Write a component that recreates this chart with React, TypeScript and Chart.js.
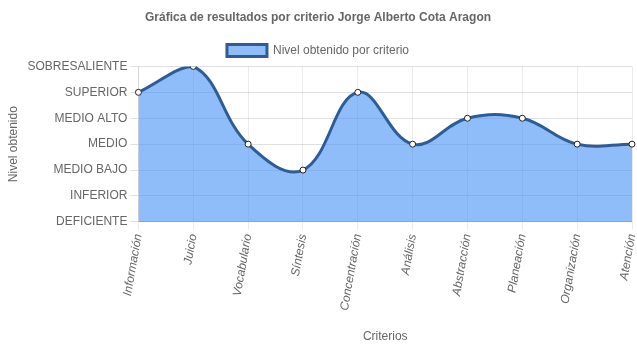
import React, { useEffect, useRef } from "react";
import { Chart, registerables } from "chart.js";

Chart.register(...registerables);

const categories = [
  "Información",
  "Juicio",
  "Vocabulario",
  "Síntesis",
  "Concentración",
  "Análisis",
  "Abstracción",
  "Planeación",
  "Organización",
  "Atención",
];
const levelLabels = [
  "DEFICIENTE",
  "INFERIOR",
  "MEDIO BAJO",
  "MEDIO",
  "MEDIO ALTO",
  "SUPERIOR",
  "SOBRESALIENTE",
];
const values = [5, 6, 3, 2, 5, 3, 4, 4, 3, 3];

export default function App() {
  const ref = useRef<HTMLCanvasElement>(null);
  useEffect(() => {
    document.body.style.margin = "0";
    const font = "'Helvetica Neue', Helvetica, Arial, 'Liberation Sans', sans-serif";
    Chart.defaults.font.family = font;
    Chart.defaults.font.size = 12;
    Chart.defaults.color = "#666";
    const chart = new Chart(ref.current!, {
      type: "line",
      data: {
        labels: categories,
        datasets: [
          {
            label: "Nivel obtenido por criterio",
            data: values,
            fill: "origin",
            backgroundColor: "rgba(66,145,245,0.6)",
            borderColor: "#2e5d96",
            borderWidth: 3,
            tension: 0.4,
            pointRadius: 3,
            pointBackgroundColor: "#ffffff",
            pointBorderColor: "#222",
            pointBorderWidth: 1,
          },
        ],
      },
      options: {
        animation: false,
        responsive: false,
        maintainAspectRatio: false,
        layout: { padding: { right: 3, left: 2, top: 0, bottom: 0 } },
        plugins: {
          title: {
            display: true,
            text: "Gráfica de resultados por criterio Jorge Alberto Cota Aragon",
            font: { size: 12, weight: "bold" },
            color: "#666",
            padding: { top: 10, bottom: 10 },
          },
          legend: {
            labels: { boxWidth: 40, boxHeight: 12, color: "#666" },
          },
          tooltip: { enabled: false },
        },
        scales: {
          x: {
            afterFit: (s: any) => {
              s.paddingRight = 0;
            },
            grid: { color: "rgba(0,0,0,0.08)", tickLength: 8 },
            ticks: {
              font: { style: "italic", size: 12 },
              maxRotation: 80,
              minRotation: 80,
            },
            title: { display: true, text: "Criterios", padding: { top: 15 } },
          },
          y: {
            min: 0,
            max: 6,
            grid: { color: "rgba(0,0,0,0.12)", tickLength: 8 },
            ticks: {
              stepSize: 1,
              callback: (v: any) => levelLabels[v as number] ?? "",
            },
            title: { display: true, text: "Nivel obtenido" },
          },
        },
      },
    });
    return () => chart.destroy();
  }, []);
  return (
    <div style={{ width: 637, height: 348 }}>
      <canvas ref={ref} width={637} height={348} style={{ width: 637, height: 348 }} />
    </div>
  );
}
